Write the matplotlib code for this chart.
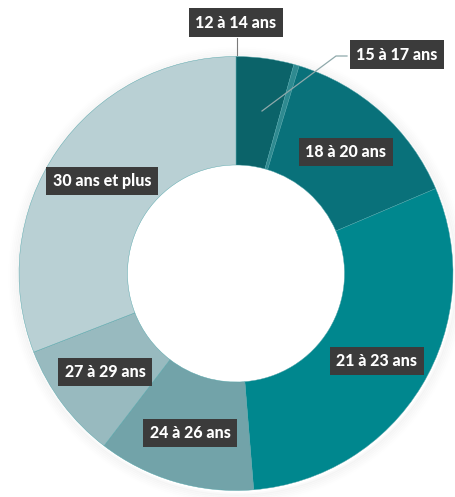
import matplotlib
matplotlib.use("Agg")
import matplotlib.pyplot as plt
import numpy as np

categories = ["12 à 14 ans", "15 à 17 ans", "18 à 20 ans", "21 à 23 ans",
              "24 à 26 ans", "27 à 29 ans", "30 ans et plus"]
values = [4.3, 0.4, 13.9, 30.1, 11.7, 8.7, 30.9]
colors = ["#0b6369", "#2f8a90", "#09717a", "#00878e", "#72a3a9", "#98babf", "#b9d0d4"]

# label box centres in pixels (x, y from top)
label_px = [(236, 22.5), (397, 54.5), (346, 152), (377, 361), (190, 433), (105, 372), (102, 181)]

W, H = 456, 497
CX, CY, R = 236, 273.5, 217

fig = plt.figure(figsize=(W / 100, H / 100), dpi=100)
ax = fig.add_axes([(CX - R) / W, (H - CY - R) / H, 2 * R / W, 2 * R / H])

wedges, _ = ax.pie(values, colors=colors, startangle=90, counterclock=False,
                   radius=1.0, wedgeprops=dict(width=0.5, edgecolor="#4fa3a8", linewidth=0.3))
for w in wedges:
    w.set_clip_on(False)

ax.set_xlim(-1, 1)
ax.set_ylim(-1, 1)
ax.set_aspect("equal")
ax.axis("off")

# soft shadow
for i, a in enumerate(np.linspace(0.05, 0.01, 6)):
    sh = plt.Circle((0.005, -0.01), 1.0 + 0.008 * (i + 1), color="#000000", alpha=a * 0.5,
                    fill=False, lw=2.2, clip_on=False, zorder=0)
    ax.add_patch(sh)

def to_data(px, py):
    return (px - CX) / R, (CY - py) / R

bbox = dict(boxstyle="square,pad=0.4", fc="#3b3b3b", ec="none")
for cat, (px, py) in zip(categories, label_px):
    x, y = to_data(px, py)
    ax.text(x, y, cat, ha="center", va="center", color="white", fontsize=11.5,
            fontweight="black", family="Lato", bbox=bbox, zorder=5)

# leader lines
x0, y0 = to_data(237, 38)
x1, y1 = to_data(237, 55)
ax.plot([x0, x1], [y0, y1], color="#7a7a7a", lw=0.8, zorder=4, clip_on=False)
pts = [to_data(347, 56), to_data(336, 56), to_data(262, 111)]
ax.plot([p[0] for p in pts], [p[1] for p in pts], color="#8fa9ab", lw=0.9, zorder=4, clip_on=False)

fig.savefig("out.png", dpi=100, facecolor="white")
